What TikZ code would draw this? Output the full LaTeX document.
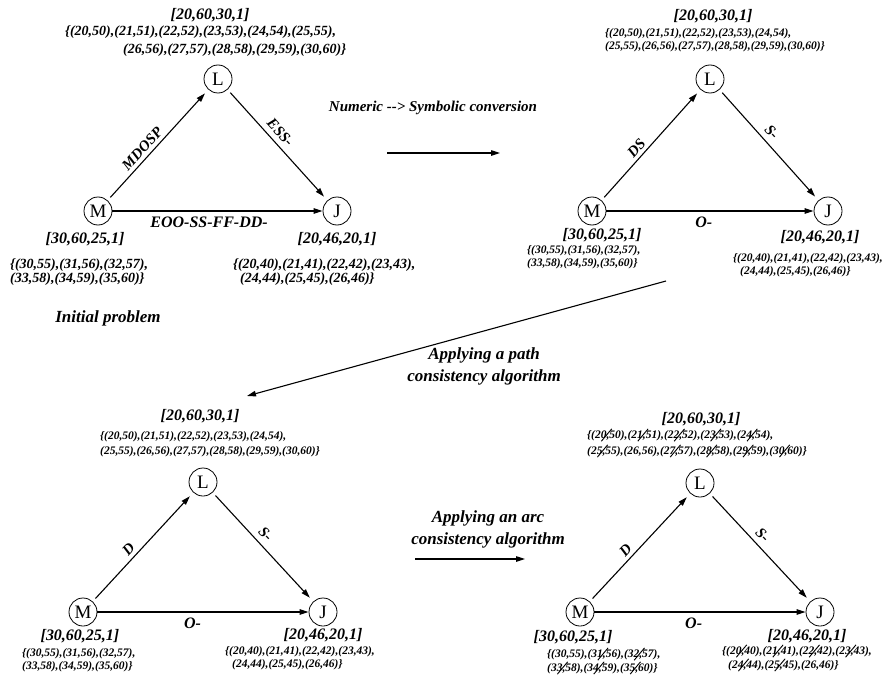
\documentclass[tikz,border=0pt]{standalone}
\usepackage{fontspec}
\setmainfont{Liberation Serif}
\usepackage{graphicx}
\usetikzlibrary{arrows.meta}

% a value pair that the arc consistency step removes
\newcommand{\struck}[2]{(#1\makebox[0pt]{\raisebox{0.3em}{\rotatebox[origin=c]{50}{\rule{1.4em}{0.08em}}}},#2)}

\begin{document}
\begin{tikzpicture}[x=1pt, y=-1pt,
    state/.style={circle, draw, line width=0.8pt, minimum size=28pt, inner sep=0pt,
                  font=\fontsize{19}{19}\selectfont},
    rel/.style={line width=1.1pt, -{Triangle[length=9pt,width=5.5pt]}},
    diag/.style={rel, shorten <=4pt, shorten >=5pt},
    tag/.style={font=\fontsize{16}{18}\selectfont\bfseries\itshape, inner sep=0pt},
    bigdom/.style={font=\fontsize{14}{14}\selectfont\bfseries\itshape, inner sep=0pt, align=left, anchor=west},
    dom/.style={font=\fontsize{11.5}{12.5}\selectfont\bfseries\itshape, inner sep=0pt, align=left, anchor=west},
    elbl/.style={font=\fontsize{15}{15}\selectfont\bfseries\itshape, sloped, above, inner sep=3.5pt},
    flat/.style={font=\fontsize{16}{16}\selectfont\bfseries\itshape, below, inner sep=5pt},
    note/.style={font=\fontsize{17}{22}\selectfont\bfseries\itshape, align=center, inner sep=0pt}]
    \useasboundingbox (0,0) rectangle (883,682);

    % Initial problem
    \foreach \n/\x/\y in {L/218/79, M/98/211, J/337/211}
        \node[state] (a\n) at (\x,\y) {\n};
    \node[tag] (aLtag) at (210,15) {[20,60,30,1]};
    \node[bigdom] (aLdom) at (65,41) {\{(20,50),(21,51),(22,52),(23,53),(24,54),(25,55),\\[3.5pt]
        \hspace*{58pt}(26,56),(27,57),(28,58),(29,59),(30,60)\}};
    \node[tag] (aMtag) at (85,239) {[30,60,25,1]};
    \node[bigdom] (aMdom) at (10,272) {\{(30,55),(31,56),(32,57),\\(33,58),(34,59),(35,60)\}};
    \node[tag] (aJtag) at (337,239) {[20,46,20,1]};
    \node[bigdom] (aJdom) at (233,272) {\{(20,40),(21,41),(22,42),(23,43),\\
        \hspace*{7pt}(24,44),(25,45),(26,46)\}};
    \draw[diag] (aM) -- node[elbl, pos=0.41] (aMLlbl) {MDOSP} (aL);
    \draw[diag] (aL) -- node[elbl, pos=0.45, inner sep=5pt] (aLJlbl) {ESS-} (aJ);
    \draw[rel] (aM) -- node[flat, pos=0.46] (aMJlbl) {EOO-SS-FF-DD-} (aJ);
    \node[note] (initial) at (108,318) {Initial problem};

    % Numeric to symbolic
    \node[note, font=\fontsize{15}{18}\selectfont\bfseries\itshape] (convtxt) at (433,108)
        {Numeric -\kern0pt-\kern0pt> Symbolic conversion};
    \coordinate (conv1) at (387,153);
    \coordinate (conv2) at (500,153);
    \draw[rel] (conv1) -- (conv2);

    \foreach \n/\x/\y in {L/710/79, M/592/211, J/828/211}
        \node[state] (b\n) at (\x,\y) {\n};
    \node[tag] (bLtag) at (713,16) {[20,60,30,1]};
    \node[dom] (bLdom) at (605,40) {\{(20,50),(21,51),(22,52),(23,53),(24,54),\\
        (25,55),(26,56),(27,57),(28,58),(29,59),(30,60)\}};
    \node[tag] (bMtag) at (602,235) {[30,60,25,1]};
    \node[dom] (bMdom) at (527,257) {\{(30,55),(31,56),(32,57),\\(33,58),(34,59),(35,60)\}};
    \node[tag] (bJtag) at (820,237) {[20,46,20,1]};
    \node[dom] (bJdom) at (733,265) {\{(20,40),(21,41),(22,42),(23,43),\\
        \hspace*{7pt}(24,44),(25,45),(26,46)\}};
    \draw[diag] (bM) -- node[elbl, pos=0.42] (bMLlbl) {DS} (bL);
    \draw[diag] (bL) -- node[elbl, pos=0.45, inner sep=5pt] (bLJlbl) {S-} (bJ);
    \draw[rel] (bM) -- node[flat, pos=0.47] (bMJlbl) {O-} (bJ);

    % Path consistency
    \coordinate (path1) at (666,281);
    \coordinate (path2) at (247,396);
    \draw[rel] (path1) -- (path2);
    \node[note] (pathtxt) at (484,366) {Applying a path\\consistency algorithm};

    \foreach \n/\x/\y in {L/203/482, M/83/612, J/323/612}
        \node[state] (c\n) at (\x,\y) {\n};
    \node[tag] (cLtag) at (200,416) {[20,60,30,1]};
    \node[dom] (cLdom) at (100,444) {\{(20,50),(21,51),(22,52),(23,53),(24,54),\\[2pt]
        (25,55),(26,56),(27,57),(28,58),(29,59),(30,60)\}};
    \node[tag] (cMtag) at (80,636) {[30,60,25,1]};
    \node[dom] (cMdom) at (22,660) {\{(30,55),(31,56),(32,57),\\(33,58),(34,59),(35,60)\}};
    \node[tag] (cJtag) at (323,635) {[20,46,20,1]};
    \node[dom] (cJdom) at (225,658) {\{(20,40),(21,41),(22,42),(23,43),\\
        \hspace*{7pt}(24,44),(25,45),(26,46)\}};
    \draw[diag] (cM) -- node[elbl, pos=0.42] (cMLlbl) {D} (cL);
    \draw[diag] (cL) -- node[elbl, pos=0.45, inner sep=5pt] (cLJlbl) {S-} (cJ);
    \draw[rel] (cM) -- node[flat, pos=0.45] (cMJlbl) {O-} (cJ);

    % Arc consistency
    \node[note] (arctxt) at (488,529) {Applying an arc\\consistency algorithm};
    \coordinate (arc1) at (415,559);
    \coordinate (arc2) at (525,559);
    \draw[rel] (arc1) -- (arc2);

    \foreach \n/\x/\y in {L/700/483, M/580/612, J/820/612}
        \node[state] (d\n) at (\x,\y) {\n};
    \node[tag] (dLtag) at (701,419) {[20,60,30,1]};
    \node[dom] (dLdom) at (587,443) {\{\struck{20}{50},\struck{21}{51},\struck{22}{52},\struck{23}{53},\struck{24}{54},\\[2pt]
        \struck{25}{55},(26,56),\struck{27}{57},\struck{28}{58},\struck{29}{59},\struck{30}{60}\}};
    \node[tag] (dMtag) at (573,637) {[30,60,25,1]};
    \node[dom] (dMdom) at (547,661) {\{(30,55),\struck{31}{56},\struck{32}{57},\\
        \struck{33}{58},\struck{34}{59},\struck{35}{60}\}};
    \node[tag] (dJtag) at (807,636) {[20,46,20,1]};
    \node[dom] (dJdom) at (722,658) {\{\struck{20}{40},\struck{21}{41},\struck{22}{42},\struck{23}{43},\\
        \hspace*{6pt}\struck{24}{44},\struck{25}{45},(26,46)\}};
    \draw[diag] (dM) -- node[elbl, pos=0.42] (dMLlbl) {D} (dL);
    \draw[diag] (dL) -- node[elbl, pos=0.45, inner sep=5pt] (dLJlbl) {S-} (dJ);
    \draw[rel] (dM) -- node[flat, pos=0.47] (dMJlbl) {O-} (dJ);
\end{tikzpicture}
\end{document}
